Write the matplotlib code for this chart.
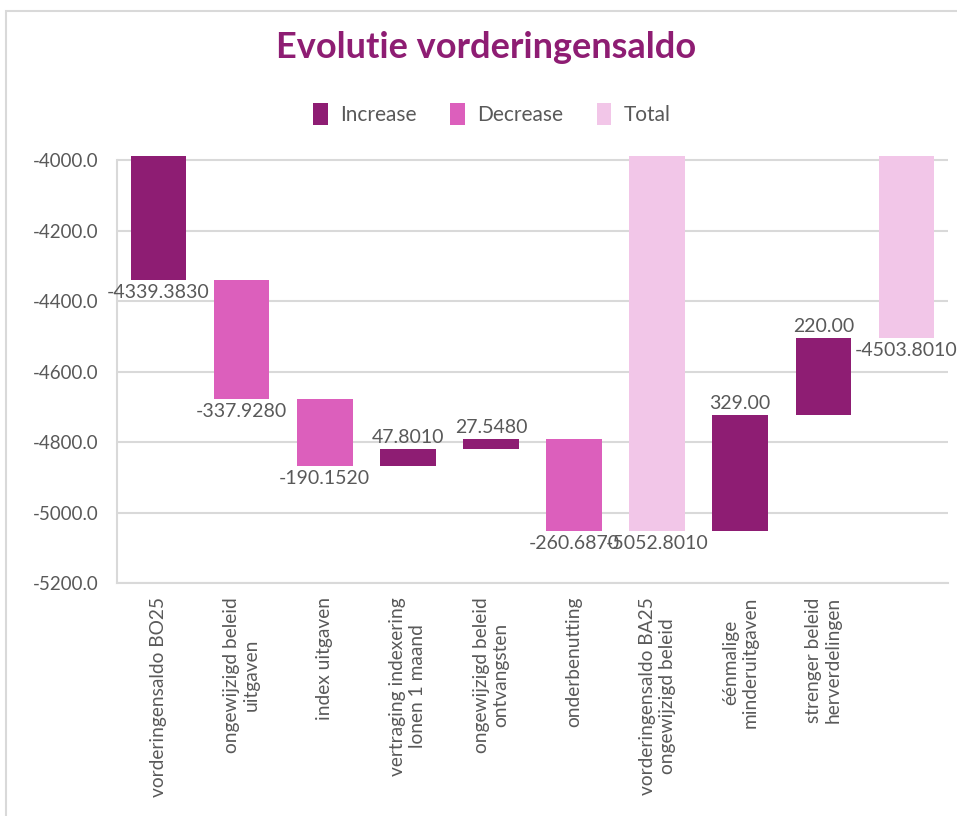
import matplotlib
matplotlib.use("Agg")
import matplotlib.pyplot as plt
from matplotlib.patches import Patch, Rectangle

categories = [
    "vorderingensaldo BO25",
    "ongewijzigd beleid\nuitgaven",
    "index uitgaven",
    "vertraging indexering\nlonen 1 maand",
    "ongewijzigd beleid\nontvangsten",
    "onderbenutting",
    "vorderingensaldo BA25\nongewijzigd beleid",
    "éénmalige\nminderuitgaven",
    "strenger beleid\nherverdelingen",
    "",
]
values = [-4339.383, -337.928, -190.152, 47.801, 27.548, -260.687,
          -5052.801, 329.00, 220.00, -4503.801]
kinds = ["increase", "decrease", "decrease", "increase", "increase",
         "decrease", "total", "increase", "increase", "total"]
value_labels = ["-4339.3830", "-337.9280", "-190.1520", "47.8010", "27.5480",
                "-260.6870", "-5052.8010", "329.00", "220.00", "-4503.8010"]
yticks = [-5200, -5000, -4800, -4600, -4400, -4200, -4000]

colors = {"increase": "#8E1D73", "decrease": "#DC5FBC", "total": "#F2C6E8"}
names = {"increase": "Increase", "decrease": "Decrease", "total": "Total"}
grey = "#595959"
font = "Lato"

plt.rcParams["font.family"] = [font, "DejaVu Sans"]

fig = plt.figure(figsize=(9.57, 8.16), dpi=100)
W, H = 957, 816
# outer chart border
fig.patches.append(Rectangle((6 / W, -0.1), 1.2, 1 - 11 / H + 0.1,
                             transform=fig.transFigure, fill=False,
                             edgecolor="#D9D9D9", linewidth=1.5))

ax = fig.add_axes([117 / W, 1 - 583 / H, (948 - 117) / W, (583 - 156) / H])

running = 0.0
bottoms, heights = [], []
for v, k in zip(values, kinds):
    if k == "total":
        bottoms.append(0.0)
        heights.append(v)
        running = v
    else:
        bottoms.append(running)
        heights.append(v)
        running += v

x = list(range(len(values)))
ax.bar(x, heights, bottom=bottoms, width=0.67,
       color=[colors[k] for k in kinds], zorder=3)

for xi, b, h, lab in zip(x, bottoms, heights, value_labels):
    end = b + h
    if h >= 0:
        ax.annotate(lab, (xi, end), xytext=(0, 2), textcoords="offset points",
                    ha="center", va="bottom", fontsize=14, color=grey, zorder=5)
    else:
        ax.annotate(lab, (xi, end), xytext=(0, -3), textcoords="offset points",
                    ha="center", va="top", fontsize=14, color=grey, zorder=5)

ax.set_xlim(-0.5, len(values) - 0.5)
ax.set_ylim(-5200, -3988.5)
ax.set_yticks(yticks)
ax.set_yticklabels([f"{t:.1f}" for t in yticks], fontsize=13.5, color=grey)
ax.yaxis.grid(True, color="#D9D9D9", linewidth=1.5, zorder=0)
ax.set_axisbelow(True)
ax.tick_params(axis="y", length=0, pad=13.5)
ax.tick_params(axis="x", length=0, pad=10)
ax.set_xticks(x)
ax.set_xticklabels(categories, rotation=90, fontsize=13.8, color=grey,
                   ha="center", va="top", multialignment="center")
for s in ["top", "right"]:
    ax.spines[s].set_visible(False)
ax.spines["left"].set_color("#D9D9D9")
ax.spines["left"].set_linewidth(1.5)
ax.spines["left"].set_bounds(-5200, -4000)
ax.spines["bottom"].set_color("#D9D9D9")
ax.spines["bottom"].set_linewidth(1.5)

fig.text(486 / W, 1 - 48 / H, "Evolutie vorderingensaldo", ha="center",
         va="center", fontsize=26, fontweight="bold", color="#8E1D73")

handles = [Patch(facecolor=colors[k], label=names[k])
           for k in ["increase", "decrease", "total"]]
fig.legend(handles=handles, loc="center", bbox_to_anchor=(492 / W, 1 - 114 / H),
           ncol=3, frameon=False, fontsize=15, labelcolor=grey,
           handlelength=0.7, handleheight=1.2, handletextpad=0.6,
           columnspacing=1.6)

fig.savefig("out.png", dpi=100)
